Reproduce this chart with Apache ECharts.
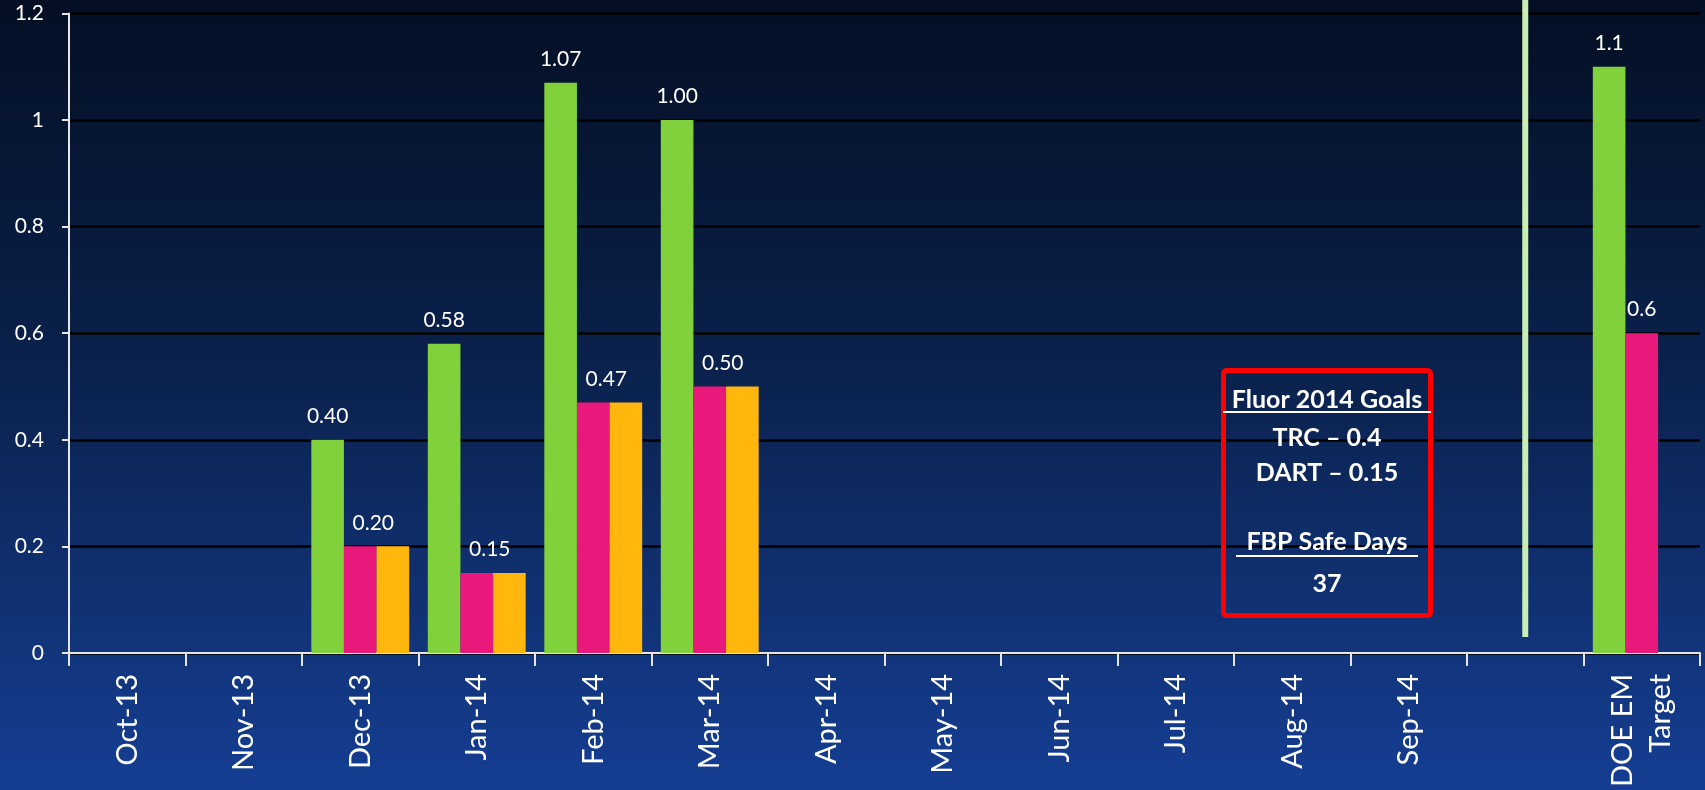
<!DOCTYPE html>
<html>
<head>
<meta charset="utf-8">
<script src="https://cdn.jsdelivr.net/npm/echarts@6/dist/echarts.min.js"></script>
<style>
  html, body { margin: 0; padding: 0; }
  #main { width: 1705px; height: 790px; }
</style>
</head>
<body>
<div id="main"></div>
<script>
var categories = ['Oct-13', 'Nov-13', 'Dec-13', 'Jan-14', 'Feb-14', 'Mar-14', 'Apr-14',
  'May-14', 'Jun-14', 'Jul-14', 'Aug-14', 'Sep-14', '', 'DOE EM\nTarget'];
var trcValues  = [null, null, 0.40, 0.58, 1.07, 1.00, null, null, null, null, null, null, null, 1.1];
var dartValues = [null, null, 0.20, 0.15, 0.47, 0.50, null, null, null, null, null, null, null, 0.6];
var thirdValues = [null, null, 0.20, 0.15, 0.47, 0.50, null, null, null, null, null, null, null, null];
var yTicks = { min: 0, max: 1.2, interval: 0.2 };
var targetIndex = 13;
var dividerIndex = 12;

var font = 'Lato, "Noto Sans", sans-serif';

function fmt(p) {
  if (p.value == null) return '';
  return p.dataIndex === targetIndex ? String(p.value) : p.value.toFixed(2);
}

var myChart = echarts.init(document.getElementById('main'));

var option = {
  backgroundColor: new echarts.graphic.LinearGradient(0, 0, 0, 1, [
    { offset: 0, color: '#040f24' },
    { offset: 0.5, color: '#0b2350' },
    { offset: 1, color: '#153e93' }
  ]),
  animation: false,
  grid: { left: 69, right: 5, top: 13.5, bottom: 135 },
  xAxis: {
    type: 'category',
    data: categories,
    axisLine: { lineStyle: { color: '#e6e6e6', width: 2 } },
    axisTick: { show: true, length: 13, lineStyle: { color: '#e6e6e6', width: 2 } },
    axisLabel: {
      rotate: 90, color: '#ffffff', fontFamily: font, fontSize: 29,
      margin: 21, lineHeight: 38, interval: 0
    }
  },
  yAxis: {
    type: 'value',
    min: yTicks.min, max: yTicks.max, interval: yTicks.interval,
    axisLine: { show: true, lineStyle: { color: '#e6e6e6', width: 2 } },
    axisTick: { show: true, length: 7, lineStyle: { color: '#e6e6e6', width: 2 } },
    axisLabel: { color: '#ffffff', fontFamily: font, fontSize: 21, margin: 25 },
    splitLine: { lineStyle: { color: '#000000', width: 2.5 } }
  },
  series: [
    {
      name: 'TRC', type: 'bar', data: trcValues,
      barGap: '0%', barCategoryGap: '16%',
      itemStyle: { color: '#80d13b' },
      label: { show: true, position: 'top', distance: 13, color: '#ffffff',
        fontFamily: font, fontSize: 21, formatter: fmt }
    },
    {
      name: 'DART', type: 'bar',
      data: dartValues.map(function (v, i) {
        return i === targetIndex ? { value: v, label: { offset: [0, 0] } } : v;
      }),
      barGap: '0%', barCategoryGap: '16%',
      itemStyle: { color: '#e9187b' },
      label: { show: true, position: 'top', distance: 13, offset: [13, 0], color: '#ffffff',
        fontFamily: font, fontSize: 21, formatter: fmt }
    },
    {
      name: 'DART2', type: 'bar', data: thirdValues,
      barGap: '0%', barCategoryGap: '16%',
      itemStyle: { color: '#ffb60d' }
    }
  ]
};

myChart.setOption(option);

// divider line in the blank category and goals box
var divX = myChart.convertToPixel({ xAxisIndex: 0 }, dividerIndex);
var cx = 1327;
function line(y, w) {
  return { type: 'line', shape: { x1: cx - w / 2, y1: y, x2: cx + w / 2, y2: y },
    style: { stroke: '#ffffff', lineWidth: 2 }, z: 10 };
}
function txt(y, s) {
  return { type: 'text', x: cx, y: y, z: 10,
    style: { text: s, fill: '#ffffff', font: 'bold 25px ' + font,
      textAlign: 'center', textVerticalAlign: 'middle' } };
}
myChart.setOption({
  graphic: [
    { type: 'line', shape: { x1: divX, y1: 0, x2: divX, y2: 637 },
      style: { stroke: '#c8eeb2', lineWidth: 6 }, z: 5 },
    { type: 'rect', shape: { x: 1223.5, y: 370.5, width: 207, height: 245, r: 3 },
      style: { fill: 'rgba(0,0,0,0)', stroke: '#ff0000', lineWidth: 5 }, z: 10 },
    txt(400, 'Fluor 2014 Goals'),
    line(412, 208),
    txt(438, 'TRC \u2013 0.4'),
    txt(473, 'DART \u2013 0.15'),
    txt(542, 'FBP Safe Days'),
    line(556, 182),
    txt(584, '37')
  ]
});
</script>
</body>
</html>
